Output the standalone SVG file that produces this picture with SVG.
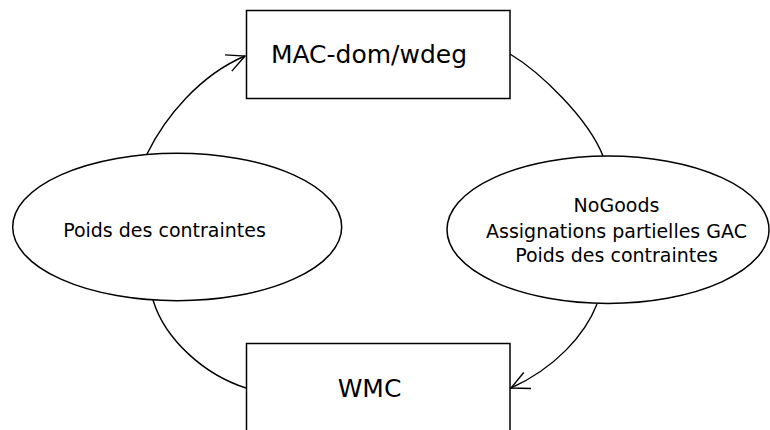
<svg xmlns="http://www.w3.org/2000/svg" width="770" height="430" viewBox="0 0 770 430">
<defs>
<style>
.shape{fill:#ffffff;stroke:#000000;stroke-width:1.5}
.conn{fill:none;stroke:#000000;stroke-width:1.4}
.big{font-family:"DejaVu Sans",sans-serif;font-size:25px;fill:#000000;text-anchor:middle}
.small{font-family:"DejaVu Sans",sans-serif;font-size:19px;fill:#000000;text-anchor:middle}
</style>
<marker id="open" markerUnits="userSpaceOnUse" markerWidth="30" markerHeight="30" viewBox="-25 -15 30 30" refX="0" refY="0" orient="auto" overflow="visible">
<path d="M-18,-8.8 L0,0 L-18,8.8" fill="none" stroke="#000000" stroke-width="1.4"/>
</marker>
</defs>
<rect width="770" height="430" fill="#ffffff"/>
<g id="connectors">
<path class="conn" d="M147,154 C165,117 200,75 245,56" marker-end="url(#open)"/>
<path class="conn" d="M510,54 C540,72 588,118 603,156"/>
<path class="conn" d="M597,304 C585,335 555,368 511,388" marker-end="url(#open)"/>
<path class="conn" d="M153,300 C165,340 205,375 246,388"/>
</g>
<g id="mac">
<rect class="shape" x="246.5" y="10.5" width="263.5" height="88"/>
<text class="big" x="369" y="63">MAC-dom/wdeg</text>
</g>
<g id="wmc">
<rect class="shape" x="246.5" y="343.5" width="263.5" height="100"/>
<text class="big" x="369.5" y="397">WMC</text>
</g>
<g id="left">
<ellipse class="shape" cx="177.2" cy="227" rx="164.5" ry="73.7"/>
<text class="small" x="164.5" y="237">Poids des contraintes</text>
</g>
<g id="right">
<ellipse class="shape" cx="608" cy="229.7" rx="161" ry="73.7"/>
<text class="small" x="616.5" y="212">NoGoods</text>
<text class="small" x="616.5" y="237.5">Assignations partielles GAC</text>
<text class="small" x="616.5" y="262">Poids des contraintes</text>
</g>
</svg>
